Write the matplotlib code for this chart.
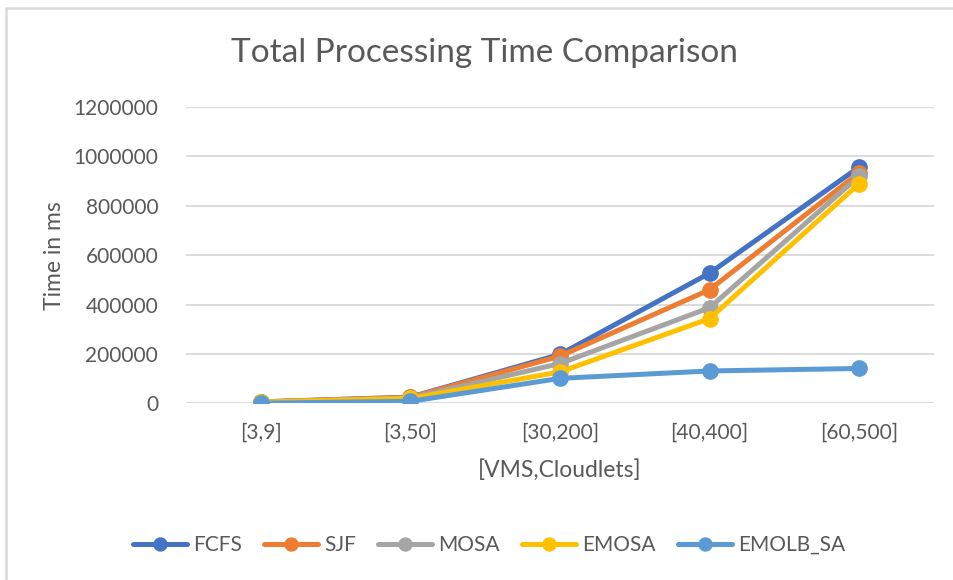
import matplotlib
matplotlib.use("Agg")
import matplotlib.pyplot as plt
from matplotlib.patches import Rectangle

# data
categories = ["[3,9]", "[3,50]", "[30,200]", "[40,400]", "[60,500]"]
fcfs = [6000, 25000, 198000, 527000, 957000]
sjf = [5500, 24000, 191000, 460000, 934000]
mosa = [5000, 22000, 161000, 387000, 920000]
emosa = [5000, 20000, 127000, 343000, 890000]
emolb_sa = [500, 8000, 101000, 131000, 141000]
yticks = [0, 200000, 400000, 600000, 800000, 1000000, 1200000]

series = [("FCFS", fcfs, "#4472C4"),
          ("SJF", sjf, "#ED7D31"),
          ("MOSA", mosa, "#A5A5A5"),
          ("EMOSA", emosa, "#FFC000"),
          ("EMOLB_SA", emolb_sa, "#5B9BD5")]

plt.rcParams['font.family'] = ['Lato', 'DejaVu Sans']
txt = "#595959"

W, H = 954, 580
fig = plt.figure(figsize=(W / 100, H / 100), dpi=100)
ax = fig.add_axes([186 / W, 1 - 403.3 / H, (934 - 186) / W, (403.3 - 107) / H])

x = list(range(len(categories)))
for name, vals, col in series:
    ax.plot(x, vals, color=col, lw=3.6, marker="o", ms=11, label=name,
            solid_capstyle="round", solid_joinstyle="round")

ax.set_xlim(-0.5, len(categories) - 0.5)
ax.set_ylim(0, 1200000)
ax.set_yticks(yticks)
ax.set_yticklabels([str(v) for v in yticks])
ax.set_xticks(x)
ax.set_xticklabels(categories)
ax.tick_params(length=0, labelsize=15, colors=txt)
ax.tick_params(axis="y", pad=20)
ax.tick_params(axis="x", pad=14)
ax.grid(axis="y", color="#D9D9D9", lw=1.3)
ax.set_axisbelow(True)
for s in ax.spines.values():
    s.set_visible(False)

ax.set_ylabel("Time in ms", fontsize=16.5, color=txt, labelpad=6)
ax.set_xlabel("[VMS,Cloudlets]", fontsize=16.5, color=txt, labelpad=12)

fig.text(484 / W, 1 - 53 / H, "Total Processing Time Comparison", fontsize=24,
         color=txt, ha="center", va="center")

fig.legend(loc="center", bbox_to_anchor=(489 / W, 1 - 545 / H), ncol=5,
           frameon=False, fontsize=15, labelcolor=txt, handlelength=2.6,
           columnspacing=1.05, handletextpad=0.3, markerscale=0.85)

# chart border (only top and left edges visible in the crop)
fig.patches.append(Rectangle((6 / W, -0.1), 1.2, 1 - 8 / H + 0.1, transform=fig.transFigure,
                             fill=False, edgecolor="#D9D9D9", lw=1.8))

fig.savefig("out.png", dpi=100)
